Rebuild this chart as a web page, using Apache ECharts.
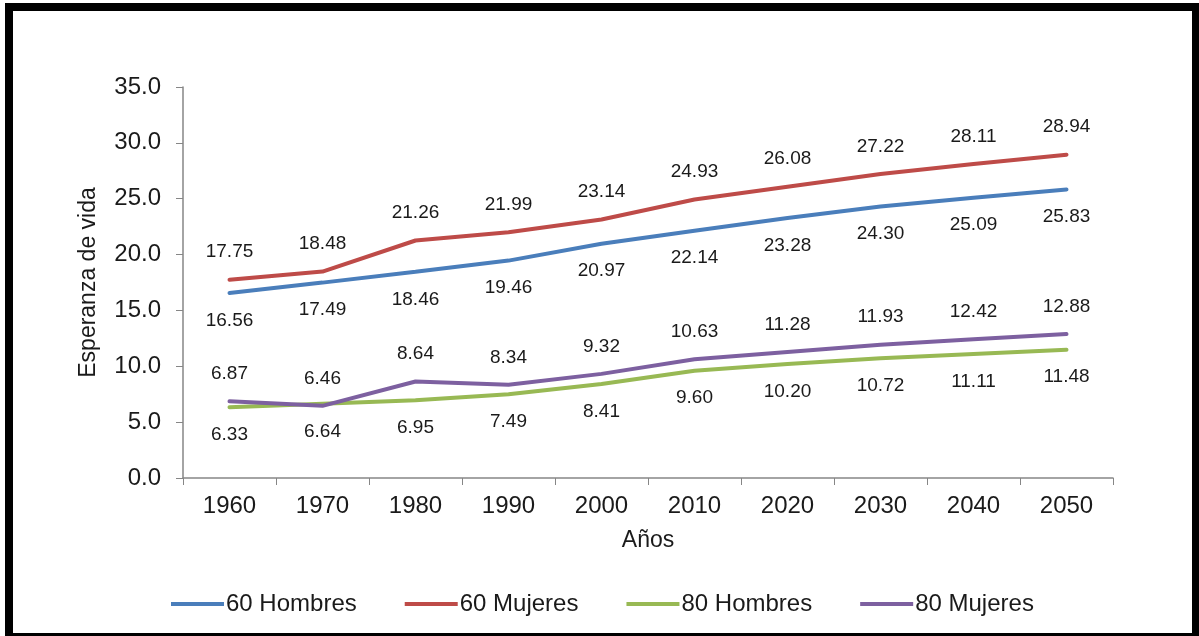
<!DOCTYPE html>
<html>
<head>
<meta charset="utf-8">
<script src="https://cdn.jsdelivr.net/npm/echarts@6/dist/echarts.min.js"></script>
<style>
html,body{margin:0;padding:0;background:#fff;overflow:hidden;}
#c{position:absolute;left:0;top:0;width:1199px;height:636px;}
#frame{position:absolute;left:5px;top:3px;width:1195px;height:638px;box-sizing:border-box;border:8px solid #000;pointer-events:none;}
</style>
</head>
<body>
<div id="c"></div>
<div id="frame"></div>
<script>
const years = ['1960','1970','1980','1990','2000','2010','2020','2030','2040','2050'];
const hombres60 = [16.56,17.49,18.46,19.46,20.97,22.14,23.28,24.30,25.09,25.83];
const mujeres60 = [17.75,18.48,21.26,21.99,23.14,24.93,26.08,27.22,28.11,28.94];
const hombres80 = [6.33,6.64,6.95,7.49,8.41,9.60,10.20,10.72,11.11,11.48];
const mujeres80 = [6.87,6.46,8.64,8.34,9.32,10.63,11.28,11.93,12.42,12.88];
const seriesNames = ['60 Hombres','60 Mujeres','80 Hombres','80 Mujeres'];
const colors = ['#4a7ebb','#be4b48','#98b954','#7d60a0'];

const chart = echarts.init(document.getElementById('c'));
const font = 'Liberation Sans, Arial, sans-serif';
function mk(name, data, color, pos) {
  return {
    name: name, type: 'line', data: data,
    symbol: 'circle', symbolSize: 0, showSymbol: true,
    lineStyle: {color: color, width: 4, cap: 'round'}, itemStyle: {color: color},
    label: {show: true, position: pos, distance: 18, fontSize: 19, color: '#1a1a1a', fontFamily: font,
      formatter: p => p.value.toFixed(2)},
    emphasis: {disabled: true},
    z: 2
  };
}
chart.setOption({
  animation: false,
  color: colors,
  grid: {left: 183, right: 86, top: 87, bottom: 158},
  legend: {
    top: 587, left: 166, itemWidth: 53, itemHeight: 4, itemGap: 48,
    icon: 'rect',
    textStyle: {fontSize: 24, color: '#1a1a1a', fontFamily: font, padding: [0,0,0,-3]},
    data: seriesNames
  },
  xAxis: {
    type: 'category', data: years, boundaryGap: true,
    name: 'Años', nameLocation: 'middle', nameGap: 51,
    nameTextStyle: {fontSize: 23, color: '#1a1a1a', fontFamily: font},
    axisLine: {lineStyle: {color: '#868686', width: 1.5}},
    axisTick: {show: true, length: 7, lineStyle: {color: '#868686'}},
    axisLabel: {fontSize: 24, color: '#1a1a1a', fontFamily: font, margin: 16}
  },
  yAxis: {
    type: 'value', min: 0, max: 35, interval: 5,
    name: 'Esperanza de vida', nameLocation: 'middle', nameGap: 83,
    nameTextStyle: {fontSize: 23, color: '#1a1a1a', fontFamily: font},
    axisLine: {show: true, lineStyle: {color: '#868686', width: 1.5}},
    axisTick: {show: true, inside: false, length: 7, lineStyle: {color: '#868686'}},
    splitLine: {show: false},
    axisLabel: {fontSize: 24, color: '#1a1a1a', fontFamily: font, margin: 22, formatter: v => v.toFixed(1)}
  },
  series: [
    mk(seriesNames[0], hombres60, colors[0], 'bottom'),
    mk(seriesNames[1], mujeres60, colors[1], 'top'),
    mk(seriesNames[2], hombres80, colors[2], 'bottom'),
    mk(seriesNames[3], mujeres80, colors[3], 'top')
  ]
});
</script>
</body>
</html>
